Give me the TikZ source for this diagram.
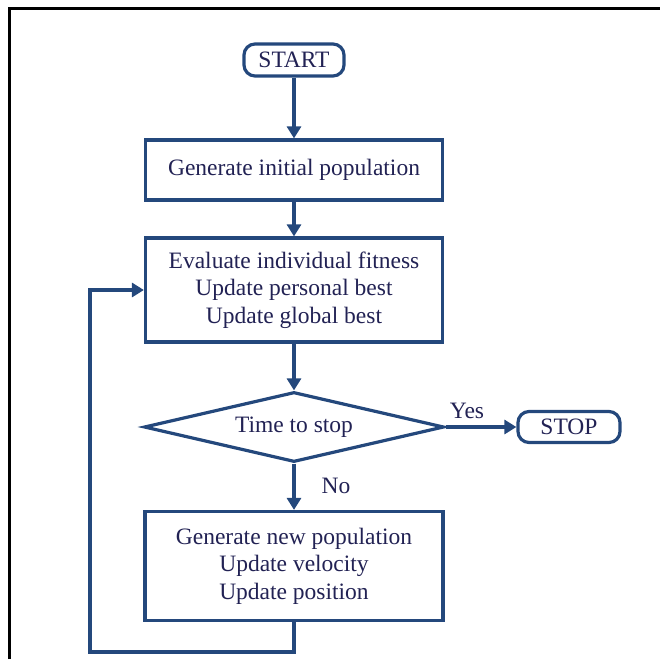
\documentclass[tikz,border=0pt]{standalone}
\usepackage{fontspec}
\setmainfont{Liberation Serif}
\usetikzlibrary{shapes,arrows.meta,positioning,calc}
\definecolor{flownavy}{RGB}{36,72,124}
\definecolor{textnavy}{RGB}{34,34,84}

\begin{document}
\begin{tikzpicture}[x=1pt, y=-1pt,
    stepbox/.style={draw=flownavy, line width=3.2pt, fill=white, text=textnavy, align=center, font=\fontsize{23.5}{27.5}\selectfont, inner sep=0pt},
    terminal/.style={draw=flownavy, line width=3.2pt, rounded corners=11pt, text=textnavy, font=\fontsize{23.5}{24}\selectfont, inner sep=0pt},
    decision/.style={diamond, aspect=4.3, draw=flownavy, line width=3.2pt, text=textnavy, font=\fontsize{23.5}{24}\selectfont, inner sep=0pt},
    arrow/.style={-{Triangle[length=12pt, width=14pt]}, draw=flownavy, line width=3.2pt},
    lbl/.style={text=textnavy, font=\fontsize{23.5}{24}\selectfont}
]

\useasboundingbox (0,0) rectangle (660,659);

% Frame
\draw[line width=3pt] (9,659) -- (9,8) -- (660,8);

% Start and first step
\node[terminal, minimum width=100pt, minimum height=32pt] (start) at (294,60) {START};
\node[stepbox, minimum width=297pt, minimum height=60pt] (init) at (294,170) {Generate initial population};

% Evaluation
\node[stepbox, minimum width=297pt, minimum height=104pt] (eval) at (294,290)
    {Evaluate individual fitness\\Update personal best\\Update global best};

% Stop test
\node[decision, minimum width=300pt, minimum height=70pt] (test) at (294,427) {Time to stop};
\node[terminal, minimum width=102pt, minimum height=31pt] (stop) at (569,427) {STOP};

% New population
\node[stepbox, minimum width=298pt, minimum height=109pt] (update) at (294,566)
    {Generate new population\\Update velocity\\Update position};

% Arrows
\draw[arrow] (start) -- (init);
\draw[arrow] (init) -- (eval);
\draw[arrow] (eval) -- (test);
\draw[arrow] (test) -- (stop);
\draw[arrow] (test) -- (update);

% Loop back
\coordinate (loop) at (90,652);
\draw[arrow] (update.south) |- (loop) |- (eval.west);

% Labels
\node[lbl] (yes) at (467,411) {Yes};
\node[lbl] (no) at (336,486) {No};

\end{tikzpicture}
\end{document}
